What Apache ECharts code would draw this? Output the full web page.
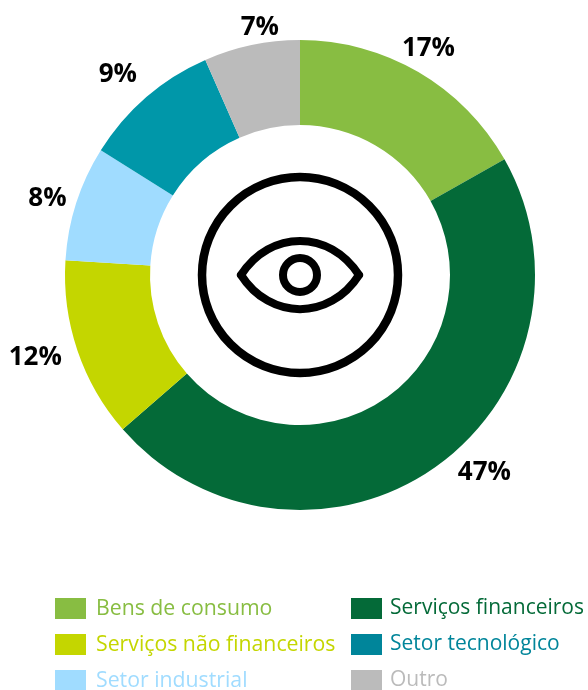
<!DOCTYPE html>
<html><head><meta charset="utf-8">
<style>html,body{margin:0;padding:0;background:#fff;overflow:hidden}#c{width:588px;height:690px}</style>
<script src="https://cdn.jsdelivr.net/npm/echarts@6/dist/echarts.min.js"></script>
</head><body><div id="c"></div>
<script>
const categories = ['Bens de consumo','Serviços financeiros','Serviços não financeiros','Setor industrial','Setor tecnológico','Outro'];
const values = [16.8,46.8,12.4,7.9,9.5,6.6];
const pctLabels = ['17%','47%','12%','8%','9%','7%'];
const colors = ['#88bd42','#046a38','#c4d600','#a0dcff','#0097a9','#bbbbbb'];
const swatchColors = ['#88bd42','#046a38','#c4d600','#a0dcff','#00859a','#bbbbbb'];
const leftCol = ['Bens de consumo','Serviços não financeiros','Setor industrial'];
const rightCol = ['Serviços financeiros','Setor tecnológico','Outro'];
const labelNudges = [[-20.5,-16],[17.5,-1],[-8,5],[-2,-2],[-4,-17],[29,-10]];

const legendData = names => names.map(n => {
  const c = swatchColors[categories.indexOf(n)];
  return {name:n, itemStyle:{color:c}, textStyle:{color:c}};
});
const legendBase = {orient:'vertical', itemWidth:31, itemHeight:21, itemGap:15, icon:'rect', selectedMode:false, padding:0, height:130};
const legendText = (pad,size) => ({fontFamily:'"Open Sans"', fontSize:size, lineHeight:21, padding:[0,0,0,pad]});
const chart = echarts.init(document.getElementById('c'), null, {renderer:'canvas'});
const eyeStyle = {fill:'none',stroke:'#000',lineWidth:8,lineCap:'round'};
chart.setOption({
  animation:false,
  color:colors,
  legend:[
    Object.assign({}, legendBase, {left:55, top:598, textStyle:legendText(5,21.25), data:legendData(leftCol)}),
    Object.assign({}, legendBase, {left:351, top:598, textStyle:legendText(3,21), data:legendData(rightCol)})
  ],
  series:[{
    type:'pie', center:[300,275], radius:[150,235], startAngle:90, clockwise:true,
    data:categories.map((n,i)=>({name:n,value:values[i],itemStyle:{color:colors[i]}})),
    label:{show:true, position:'outside', formatter:p=>pctLabels[p.dataIndex],
      fontFamily:'"Open Sans"', fontWeight:700, fontSize:26, color:'#000', distanceToLabelLine:0},
    labelLine:{show:false, length:8, length2:0},
    labelLayout:p=>({dx:labelNudges[p.dataIndex][0], dy:labelNudges[p.dataIndex][1]}),
    emphasis:{disabled:true}, silent:true
  }],
  graphic:[{type:'group', x:300, y:275, children:[
    {type:'circle', shape:{cx:0,cy:0,r:98}, style:{fill:'none',stroke:'#000',lineWidth:8.5}},
    {type:'circle', shape:{cx:0,cy:0,r:17}, style:{fill:'none',stroke:'#000',lineWidth:8}},
    {type:'bezierCurve', shape:{x1:-59,y1:0,cpx1:-30,cpy1:-45.5,cpx2:30,cpy2:-45.5,x2:59,y2:0}, style:eyeStyle},
    {type:'bezierCurve', shape:{x1:-59,y1:0,cpx1:-30,cpy1:45.5,cpx2:30,cpy2:45.5,x2:59,y2:0}, style:eyeStyle}
  ]}]
});
</script></body></html>
